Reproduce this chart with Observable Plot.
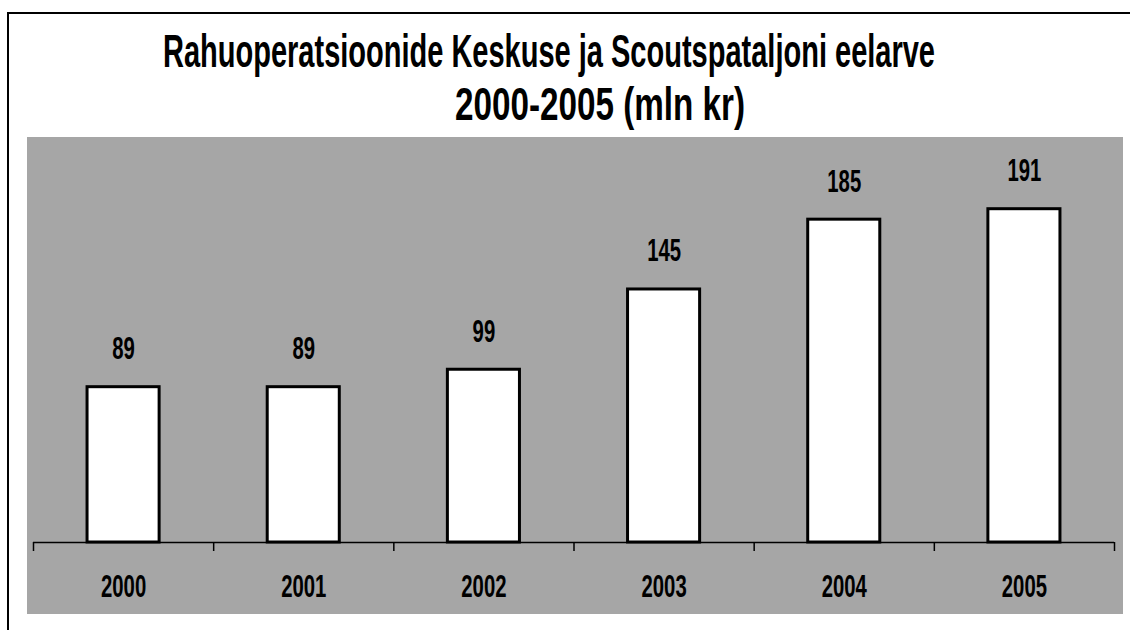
<!DOCTYPE html>
<html><head><meta charset="utf-8">
<script src="https://cdn.jsdelivr.net/npm/d3@7"></script>
<script src="https://cdn.jsdelivr.net/npm/@observablehq/plot@0.6"></script>
<style>
html,body{margin:0;padding:0;overflow:hidden;}
body{background:#fff;width:1130px;height:630px;position:relative;font-family:"Liberation Sans",Arial,sans-serif;}
#frame{position:absolute;left:7px;top:12px;width:1121px;height:618px;border-left:2px solid #000;border-top:2px solid #000;}
.t{position:absolute;white-space:nowrap;font-size:46px;line-height:46px;font-weight:bold;color:#000;}
#chart{position:absolute;left:27px;top:137px;}
</style></head><body>
<div id="frame"></div>
<div class="t" id="t1" style="top:28px">Rahuoperatsioonide Keskuse ja Scoutspataljoni eelarve</div>
<div class="t" id="t2" style="top:81px">2000-2005 (mln kr)</div>
<div id="chart"></div>
<script>
const years = ["2000", "2001", "2002", "2003", "2004", "2005"];
const values = [89, 89, 99, 145, 185, 191];

const data = years.map((year, i) => ({year, value: values[i], i}));
const font = '"Liberation Sans",Arial,sans-serif';

const plot = Plot.plot({
  width: 1096, height: 477,
  marginLeft: 6, marginRight: 9, marginTop: 56, marginBottom: 72,
  style: {background: "#a6a6a6", fontFamily: font, fontSize: "31px", fontWeight: "bold", color: "#000"},
  x: {domain: [0, years.length], axis: null},
  y: {domain: [0, 200], axis: null},
  marks: [
    Plot.ruleY([0], {stroke: "black", strokeWidth: 1.5}),
    Plot.axisX({ticks: d3.range(years.length + 1), tickSize: 9, tickFormat: () => "", stroke: "black", strokeWidth: 1.5, label: null}),
    Plot.rectY(data, {x1: d => d.i + 0.3, x2: d => d.i + 0.7, y: "value", fill: "white", stroke: "black", strokeWidth: 3}),
    Plot.text(data, {x: d => d.i + 0.5, y: "value", text: d => String(d.value), dy: -38, lineAnchor: "middle", fontSize: 31, fontWeight: "bold", fill: "black"}),
    Plot.text(data, {x: d => d.i + 0.5, text: "year", frameAnchor: "bottom", dy: 45, lineAnchor: "middle", fontSize: 31, fontWeight: "bold", fill: "black"})
  ]
});
document.getElementById("chart").appendChild(plot);

// condense digits to match the narrow typeface of the original
d3.select(plot).selectAll("text").each(function() {
  const s = this.textContent;
  if (s && s.trim().length) {
    this.setAttribute("textLength", s.length * 11.3);
    this.setAttribute("lengthAdjust", "spacingAndGlyphs");
  }
});

function fitTitle(id, center, target) {
  const el = document.getElementById(id);
  const w = el.getBoundingClientRect().width;
  el.style.transformOrigin = "0 0";
  el.style.transform = `scaleX(${target / w})`;
  el.style.left = (center - target / 2) + "px";
}
fitTitle("t1", 549, 772);
fitTitle("t2", 600, 290);
</script>
</body></html>
